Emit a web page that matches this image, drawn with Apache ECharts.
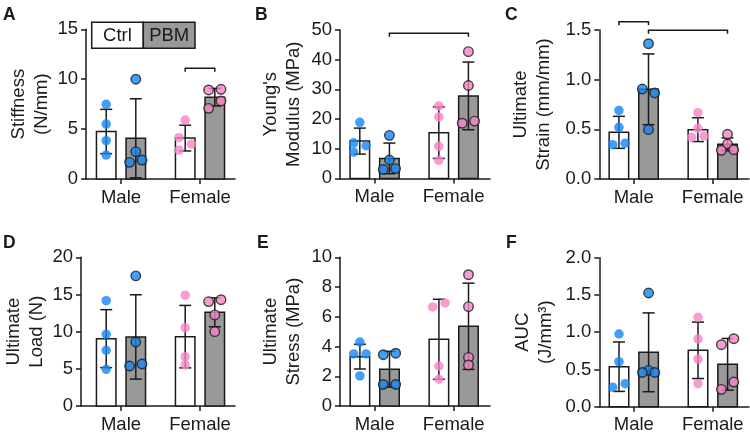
<!DOCTYPE html>
<html><head><meta charset="utf-8">
<script src="https://cdn.jsdelivr.net/npm/echarts@6/dist/echarts.min.js"></script>
<style>html,body{margin:0;padding:0;background:#fff}#c{width:750px;height:435px}</style>
</head><body><div id="c"></div>
<script>
// ---------- DATA ----------
const categories = ['Male', 'Female'];
const groups = ['Ctrl', 'PBM'];

// each mean/sd array: [Male:[Ctrl,PBM], Female:[Ctrl,PBM]]
const stiffnessMean = [[4.76, 4.08], [4.10, 8.20]];
const stiffnessSD = [[2.22, 3.96], [1.29, 0.88]];
const stiffnessPoints = [[[7.48, 5.5, 3.84, 2.4], [10.0, 2.74, 1.9, 1.67]], [[5.9, 4.14, 3.5, 2.9], [8.92, 8.99, 7.82, 7.08]]];
const stiffnessTicks = [0, 5, 10, 15];
const stiffnessBrackets = [[1, 0, 1, 1, 11.1]];

const modulusMean = [[12.57, 6.74], [15.4, 27.8]];
const modulusSD = [[4.38, 5.16], [8.67, 11.4]];
const modulusPoints = [[[18.9, 12.0, 11.0, 8.87], [14.5, 6.2, 3.0, 3.3]], [[24.4, 20.7, 10.8, 6.1], [42.7, 31.3, 18.6, 19.3]]];
const modulusTicks = [0, 10, 20, 30, 40, 50];
const modulusBrackets = [[0, 1, 1, 1, 48.9]];

const strainMean = [[0.47, 0.903], [0.497, 0.349]];
const strainSD = [[0.161, 0.356], [0.12, 0.065]];
const strainPoints = [[[0.69, 0.52, 0.345, 0.36], [1.362, 0.906, 0.866, 0.497]], [[0.668, 0.51, 0.42, 0.433], [0.45, 0.352, 0.289, 0.295]]];
const strainTicks = [0, 0.5, 1.0, 1.5];
const strainBrackets = [[0, 0, 0, 1, 1.584], [0, 1, 1, 1, 1.497]];

const loadMean = [[9.06, 9.29], [9.33, 12.6]];
const loadSD = [[3.9, 5.67], [4.2, 1.94]];
const loadPoints = [[[14.17, 9.65, 7.5, 4.94], [17.5, 8.61, 5.38, 5.65]], [[14.9, 10.54, 6.64, 5.52], [14.04, 14.3, 12.25, 10.0]]];
const loadTicks = [0, 5, 10, 15, 20];
const loadBrackets = [];

const stressMean = [[3.32, 2.47], [4.49, 5.36]];
const stressSD = [[0.83, 1.2], [2.69, 2.9]];
const stressPoints = [[[4.3, 3.5, 3.5, 2.02], [3.45, 3.55, 1.45, 1.45]], [[6.66, 6.93, 2.69, 1.8], [8.83, 6.68, 3.27, 2.76]]];
const stressTicks = [0, 2, 4, 6, 8, 10];
const stressBrackets = [];

const aucMean = [[0.537, 0.73], [0.757, 0.569]];
const aucSD = [[0.332, 0.529], [0.379, 0.347]];
const aucPoints = [[[0.976, 0.604, 0.26, 0.309], [1.526, 0.488, 0.46, 0.46]], [[1.2, 0.909, 0.64, 0.309], [0.913, 0.832, 0.331, 0.233]]];
const aucTicks = [0, 0.5, 1.0, 1.5, 2.0];
const aucBrackets = [];

// ---------- LAYOUT / STYLE ----------
// point side-offsets (beeswarm slots: -1 left, 0 centre, 1 right)
const jitterA = [[[0,0,0,0],[0,0,1,-1]],[[0,-1,1,-1],[-1,1,1,-1]]];
const jitterB = [[[0,-1,1,-1],[0,0,-1,1]],[[0,0,0,0],[0,0,-1,1]]];
const jitterC = [[[0,0,-1,1],[0,-1,1,0]],[[0,0,-1,1],[0,0,-1,1]]];
const jitterD = [[[0,0,0,0],[0,0,-1,1]],[[0,0,0,0],[-1,1,0,0]]];
const jitterE = [[[0,-1,1,0],[-1,1,-1,1]],[[-1,1,0,0],[0,0,0,0]]];
const jitterF = [[[0,0,-1,1],[0,0,-1,1]],[[0,0,0,0],[1,-1,1,-1]]];

const FONT = 'Liberation Sans, Arial, Helvetica, sans-serif';
const INK = '#1a1a1a';
const GREY = '#999999';
const BLUE = '#1686f2';
const PINK = '#f585c6';
const U = 79;            // px per category step
const OFF = 14.8 / U;    // group offset
const BW = 19.5 / U;     // bar width
const CAP = 12 / U;      // error cap width
const STEP = 6.2 / U;    // jitter step
const FS = 18.5;

const panels = [
  {label:'A', name:'Stiffness\n(N/mm)', mean:stiffnessMean, sd:stiffnessSD, pts:stiffnessPoints, jit:jitterA, ticks:stiffnessTicks, br:stiffnessBrackets, dec:0, left:86, right:235, top:29.3, bottom:179, c0:121, gap:33, lx:3, ly:6},
  {label:'B', name:"Young's\nModulus (MPa)", mean:modulusMean, sd:modulusSD, pts:modulusPoints, jit:jitterB, ticks:modulusTicks, br:modulusBrackets, dec:0, left:340, right:490, top:30, bottom:178.4, c0:374.6, gap:35, lx:255, ly:6},
  {label:'C', name:'Ultimate\nStrain (mm/mm)', mean:strainMean, sd:strainSD, pts:strainPoints, jit:jitterC, ticks:strainTicks, br:strainBrackets, dec:1, left:599.3, right:749, top:30, bottom:179, c0:633.7, gap:44, lx:505, ly:6},
  {label:'D', name:'Ultimate\nLoad (N)', mean:loadMean, sd:loadSD, pts:loadPoints, jit:jitterD, ticks:loadTicks, br:loadBrackets, dec:0, left:81, right:235, top:257.3, bottom:406, c0:121, gap:32, lx:3, ly:234},
  {label:'E', name:'Ultimate\nStress (MPa)', mean:stressMean, sd:stressSD, pts:stressPoints, jit:jitterE, ticks:stressTicks, br:stressBrackets, dec:0, left:340, right:490, top:257.3, bottom:406, c0:374.7, gap:35, lx:257, ly:234},
  {label:'F', name:'AUC\n(J/mm³)', mean:aucMean, sd:aucSD, pts:aucPoints, jit:jitterF, ticks:aucTicks, br:aucBrackets, dec:1, left:599.3, right:749, top:257.7, bottom:406.7, c0:633.8, gap:42, lx:506, ly:234}
];

const grid = [], xAxis = [], yAxis = [], series = [], title = [];

panels.forEach((p, i) => {
  grid.push({left:p.left, top:p.top, width:p.right - p.left, height:p.bottom - p.top});
  title.push({text:p.label, left:p.lx, top:p.ly, padding:0,
    textStyle:{fontFamily:FONT, fontSize:17.5, fontWeight:'bold', color:INK}});
  xAxis.push({type:'value', gridIndex:i,
    min:(p.left - p.c0) / U, max:(p.right - p.c0) / U,
    splitLine:{show:false},
    axisLine:{show:true, onZero:false, lineStyle:{color:INK, width:1.5}},
    axisTick:{show:true, customValues:[0, 1], length:5, lineStyle:{color:INK, width:1.5}},
    axisLabel:{customValues:[0, 1], formatter:v => categories[Math.round(v)],
      fontFamily:FONT, fontSize:FS, color:INK, margin:9}
  });
  const tk = p.ticks;
  yAxis.push({type:'value', gridIndex:i, min:tk[0], max:tk[tk.length - 1], interval:tk[1] - tk[0],
    splitLine:{show:false},
    axisLine:{show:true, onZero:false, lineStyle:{color:INK, width:1.5}},
    axisTick:{show:true, length:5, lineStyle:{color:INK, width:1.5}},
    axisLabel:{fontFamily:FONT, fontSize:FS, color:INK, margin:8,
      formatter:v => v.toFixed(p.dec)},
    name:p.name, nameLocation:'middle', nameGap:p.gap,
    nameTextStyle:{fontFamily:FONT, fontSize:FS, color:INK, lineHeight:23, align:'center'}
  });

  // bars + error bars
  const barData = [];
  categories.forEach((c, ci) => groups.forEach((g, gi) => {
    barData.push([ci + (gi ? OFF : -OFF), p.mean[ci][gi], p.sd[ci][gi], gi]);
  }));
  series.push({type:'custom', xAxisIndex:i, yAxisIndex:i, z:2, data:barData,
    encode:{x:0, y:1},
    renderItem:(params, api) => {
      const x = api.value(0), m = api.value(1), s = api.value(2), g = api.value(3);
      const top = api.coord([x, m]), base = api.coord([x, 0]);
      const hi = api.coord([x, m + s]), lo = api.coord([x, Math.max(m - s, 0)]);
      const w = api.size([BW, 0])[0], cw = api.size([CAP, 0])[0];
      const ls = {stroke:INK, lineWidth:1.5};
      return {type:'group', children:[
        {type:'rect', shape:{x:top[0] - w / 2, y:top[1], width:w, height:base[1] - top[1]},
          style:{fill:g ? GREY : '#fff', stroke:INK, lineWidth:1.5}},
        {type:'line', shape:{x1:top[0], y1:hi[1], x2:top[0], y2:lo[1]}, style:ls},
        {type:'line', shape:{x1:top[0] - cw / 2, y1:hi[1], x2:top[0] + cw / 2, y2:hi[1]}, style:ls},
        {type:'line', shape:{x1:top[0] - cw / 2, y1:lo[1], x2:top[0] + cw / 2, y2:lo[1]}, style:ls}
      ]};
    }
  });

  // individual points
  const ptData = [];
  categories.forEach((c, ci) => groups.forEach((g, gi) => {
    p.pts[ci][gi].forEach((v, k) => {
      const col = ci === 0 ? BLUE : PINK;
      ptData.push({value:[ci + (gi ? OFF : -OFF) + p.jit[ci][gi][k] * STEP, v],
        itemStyle:{color:col, borderColor:gi ? INK : col, borderWidth:gi ? 1.4 : 0}});
    });
  }));
  series.push({type:'scatter', xAxisIndex:i, yAxisIndex:i, z:4, symbol:'circle', symbolSize:9.5,
    data:ptData, silent:true});

  // significance brackets
  if (p.br.length) {
    series.push({type:'custom', xAxisIndex:i, yAxisIndex:i, z:5, clip:false,
      data:p.br.map(b => [b[0] + (b[1] ? OFF : -OFF), b[2] + (b[3] ? OFF : -OFF), b[4]]),
      encode:{x:[0, 1], y:2},
      renderItem:(params, api) => {
        const a = api.coord([api.value(0), api.value(2)]);
        const b = api.coord([api.value(1), api.value(2)]);
        return {type:'polyline', shape:{points:[[a[0], a[1] + 3.5], a, b, [b[0], b[1] + 3.5]]},
          style:{stroke:INK, lineWidth:1.5, fill:null}};
      }
    });
  }
});

const chart = echarts.init(document.getElementById('c'), null, {renderer:'canvas'});
chart.setOption({
  animation:false,
  backgroundColor:'#fff',
  title, grid, xAxis, yAxis, series,
  graphic:[
    {type:'rect', shape:{x:91.7, y:22.3, width:51.6, height:26}, style:{fill:'#fff', stroke:INK, lineWidth:1.5}, z:10},
    {type:'rect', shape:{x:143.3, y:22.3, width:51.7, height:26}, style:{fill:GREY, stroke:INK, lineWidth:1.5}, z:10},
    {type:'text', x:117.5, y:35.5, style:{text:groups[0], fontFamily:FONT, fontSize:FS, fill:INK, align:'center', verticalAlign:'middle'}, z:11},
    {type:'text', x:169.2, y:35.5, style:{text:groups[1], fontFamily:FONT, fontSize:FS, fill:INK, align:'center', verticalAlign:'middle'}, z:11}
  ]
});
</script></body></html>
